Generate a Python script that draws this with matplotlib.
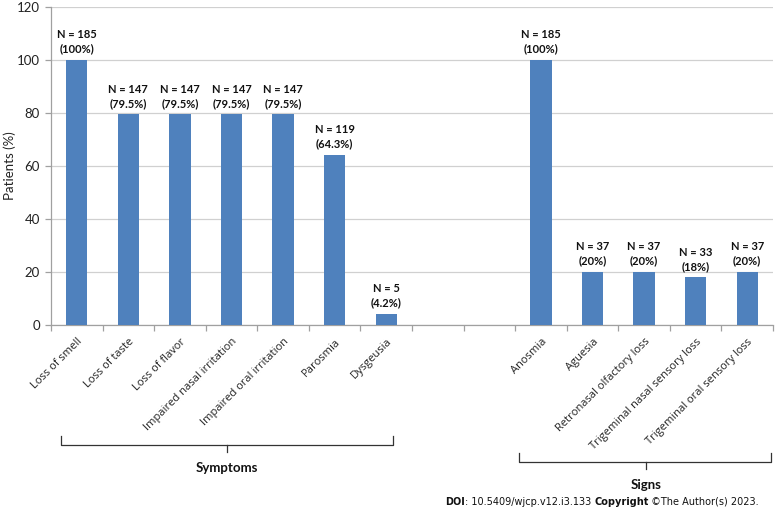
import matplotlib
matplotlib.use("Agg")
import matplotlib.pyplot as plt
import numpy as np
from matplotlib.lines import Line2D
from matplotlib.transforms import blended_transform_factory

symptom_labels = ["Loss of smell", "Loss of taste", "Loss of flavor",
                  "Impaired nasal irritation", "Impaired oral irritation",
                  "Parosmia", "Dysgeusia"]
symptom_values = [100, 79.5, 79.5, 79.5, 79.5, 64.3, 4.2]
symptom_n = [185, 147, 147, 147, 147, 119, 5]
symptom_pct = ["100%", "79.5%", "79.5%", "79.5%", "79.5%", "64.3%", "4.2%"]

sign_labels = ["Anosmia", "Aguesia", "Retronasal olfactory loss",
               "Trigeminal nasal sensory loss", "Trigeminal oral sensory loss"]
sign_values = [100, 20, 20, 18, 20]
sign_n = [185, 37, 37, 33, 37]
sign_pct = ["100%", "20%", "20%", "18%", "20%"]

y_ticks = [0, 20, 40, 60, 80, 100, 120]
gap_slots = 2

FONT = "Open Sans"
VFONT = "Lato"
BAR = "#4f81bd"
W, H = 777, 512

fig = plt.figure(figsize=(W / 100, H / 100), dpi=100)
ax = fig.add_axes([51 / W, 1 - 325 / H, (773 - 51) / W, (325 - 7) / H])

x_sym = np.arange(len(symptom_labels))
x_sig = np.arange(len(sign_labels)) + len(symptom_labels) + gap_slots
n_slots = len(symptom_labels) + gap_slots + len(sign_labels)

ax.bar(x_sym, symptom_values, width=0.41, color=BAR, zorder=3)
ax.bar(x_sig, sign_values, width=0.41, color=BAR, zorder=3)

for xs, vs, ns, ps in [(x_sym, symptom_values, symptom_n, symptom_pct),
                       (x_sig, sign_values, sign_n, sign_pct)]:
    for x, v, n, p in zip(xs, vs, ns, ps):
        ax.annotate(f"N = {n}\n({p})", (x, v), xytext=(0, 4),
                    textcoords="offset points", ha="center", va="bottom",
                    fontsize=8, fontweight="bold", family=VFONT,
                    linespacing=1.35, color="#111111")

ax.set_xlim(-0.5, n_slots - 0.5)
ax.set_ylim(0, 120)
ax.set_yticks(y_ticks)
ax.grid(axis="y", color="#d0d0d0", linewidth=0.9, zorder=0)
ax.set_axisbelow(True)

ax.set_xticks(list(x_sym) + list(x_sig))
ax.set_xticklabels(symptom_labels + sign_labels, rotation=45, ha="right",
                   rotation_mode="anchor", fontsize=8, family=FONT,
                   color="#222222")
ax.tick_params(axis="x", which="major", length=0, pad=8)
ax.set_xticks(np.arange(n_slots + 1) - 0.5, minor=True)
ax.tick_params(axis="x", which="minor", length=4, color="#a0a0a0", width=0.9)
ax.tick_params(axis="y", length=4, color="#a0a0a0", width=0.9,
               labelsize=9.5, labelcolor="#222222", pad=4)
for lab in ax.get_yticklabels():
    lab.set_family(VFONT)

for s in ["top", "right"]:
    ax.spines[s].set_visible(False)
for s in ["left", "bottom"]:
    ax.spines[s].set_color("#a0a0a0")
    ax.spines[s].set_linewidth(0.9)

ax.set_ylabel("Patients (%)", fontsize=9.5, family=VFONT, color="#222222",
              va="center")
ax.yaxis.set_label_coords(-41 / 722, 0.5)

# Group brackets
tr = blended_transform_factory(ax.transData, fig.transFigure)

def bracket(x0, x1, xc, y_line, label, y_text):
    fy = lambda py: 1 - py / H
    kw = dict(transform=tr, color="#333333", linewidth=0.9)
    fig.add_artist(Line2D([x0, x0, x1, x1],
                          [fy(y_line - 9), fy(y_line), fy(y_line), fy(y_line - 9)], **kw))
    fig.add_artist(Line2D([xc, xc], [fy(y_line), fy(y_line + 7)], **kw))
    fig.text(xc, fy(y_text), label, transform=tr, ha="center", va="center",
             fontsize=9.5, fontweight="bold", family=VFONT, color="#111111")

bracket(x_sym[0] - 0.31, x_sym[-1] + 0.13, (x_sym[0] + x_sym[-1]) / 2 - 0.09,
        445, "Symptoms", 468)
bracket(x_sig[0] - 0.43, x_sig[-1] + 0.47, (x_sig[0] + x_sig[-1]) / 2 + 0.03,
        462, "Signs", 485)

# DOI footer with mixed weights
fig.canvas.draw()
renderer = fig.canvas.get_renderer()
parts = [("DOI", "bold"), (": 10.5409/wjcp.v12.i3.133 ", "normal"),
         ("Copyright", "bold"), (" \u00a9The Author(s) 2023.", "normal")]
x = 445 / W
for s, wt in parts:
    t = fig.text(x, 1 - 502 / H, s, ha="left", va="center", fontsize=7.05,
                 fontweight=wt, family="DejaVu Sans", color="#111111")
    bb = t.get_window_extent(renderer)
    x += bb.width / W

fig.savefig("out.png", dpi=100)
